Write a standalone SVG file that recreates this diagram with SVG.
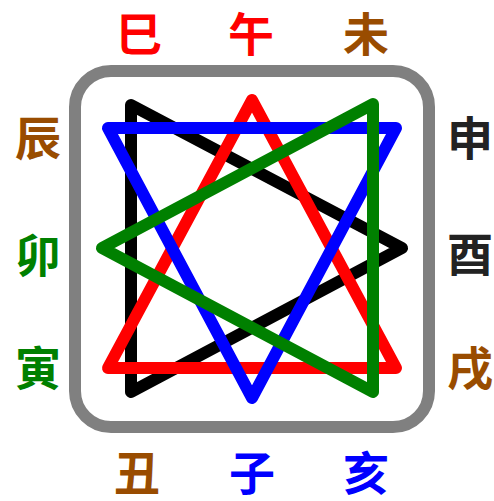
<svg xmlns="http://www.w3.org/2000/svg" width="494" height="501" viewBox="0 0 494 501">
<style>
.t{font-family:"Noto Sans CJK SC","Noto Sans CJK JP",sans-serif;font-size:46px;font-weight:bold;text-anchor:middle;dominant-baseline:central}
.tri{fill:none;stroke-width:12;stroke-linejoin:round}
</style>
<rect x="0" y="0" width="494" height="501" fill="#fff"/>
<g id="frame"><rect x="75" y="71" width="354" height="356" rx="36" fill="none" stroke="#808080" stroke-width="12"/></g>
<g id="connectors">
<polygon class="tri" stroke="#000" points="131,105 402,248 131,392"/>
<polygon class="tri" stroke="#f00" points="252,100 108,368 396,368"/>
<polygon class="tri" stroke="#00f" points="108,128 396,128 252,398"/>
<polygon class="tri" stroke="#008000" points="373,104 102,248 373,392"/>
</g>
<g id="n-si"><text class="t" x="139" y="31" fill="#f00">巳</text></g>
<g id="n-wu"><text class="t" x="251" y="31" fill="#f00">午</text></g>
<g id="n-wei"><text class="t" x="366" y="31" fill="#994c00">未</text></g>
<g id="n-chen"><text class="t" x="38" y="135" fill="#994c00">辰</text></g>
<g id="n-mao"><text class="t" x="38" y="252" fill="#008000">卯</text></g>
<g id="n-yin"><text class="t" x="38" y="365" fill="#008000">寅</text></g>
<g id="n-shen"><text class="t" x="470" y="135" fill="#222">申</text></g>
<g id="n-you"><text class="t" x="470" y="251" fill="#222">酉</text></g>
<g id="n-xu"><text class="t" x="470" y="365" fill="#994c00">戌</text></g>
<g id="n-chou"><text class="t" x="137" y="470" fill="#994c00">丑</text></g>
<g id="n-zi"><text class="t" x="252" y="470" fill="#00f">子</text></g>
<g id="n-hai"><text class="t" x="366" y="470" fill="#00f">亥</text></g>
</svg>
